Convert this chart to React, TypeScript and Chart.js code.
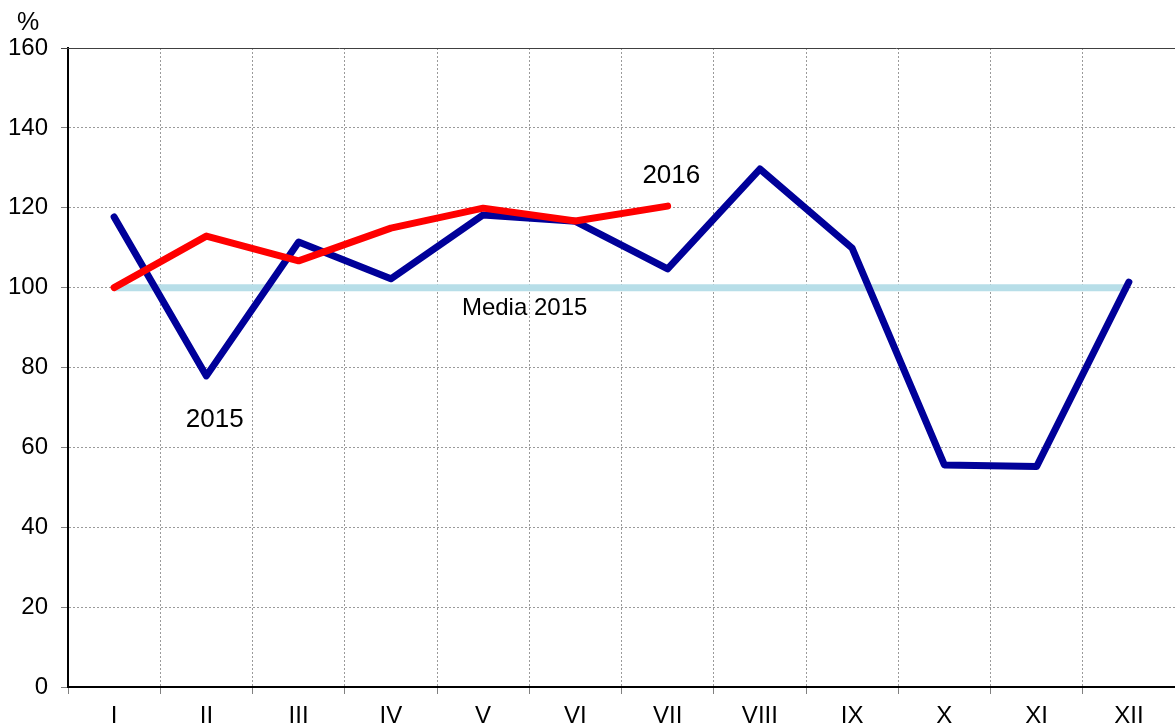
import React, { useEffect, useRef } from "react";
import { Chart, registerables } from "chart.js";

Chart.register(...registerables);

const months = ["I", "II", "III", "IV", "V", "VI", "VII", "VIII", "IX", "X", "XI", "XII"];
const values2015 = [117.7, 77.9, 111.4, 102.2, 118.2, 116.6, 104.7, 129.7, 109.9, 55.6, 55.2, 101.4];
const values2016 = [100, 112.9, 106.7, 114.9, 119.9, 116.7, 120.4, null, null, null, null, null];
const media2015 = [100, 100, 100, 100, 100, 100, 100, 100, 100, 100, 100, 100];
const yTicks = [0, 20, 40, 60, 80, 100, 120, 140, 160];

const FONT = "'Liberation Sans', Arial, sans-serif";

const labelPlugin = {
  id: "labels",
  afterDatasetsDraw(chart: any) {
    const { ctx, scales, chartArea } = chart;
    const x = scales.x;
    const y = scales.y;
    ctx.save();
    // top border
    ctx.strokeStyle = "#404040";
    ctx.lineWidth = 1;
    ctx.beginPath();
    ctx.moveTo(chartArea.left - 7, Math.round(chartArea.top) + 0.5);
    ctx.lineTo(chartArea.right, Math.round(chartArea.top) + 0.5);
    ctx.stroke();

    ctx.fillStyle = "#000";
    ctx.textAlign = "center";
    ctx.textBaseline = "middle";
    ctx.font = `26px ${FONT}`;
    ctx.fillText("2015", x.getPixelForValue(1.09), y.getPixelForValue(66.8));
    ctx.fillText("2016", x.getPixelForValue(6.04), y.getPixelForValue(128));
    ctx.font = `24px ${FONT}`;
    ctx.fillText("Media 2015", x.getPixelForValue(4.45), y.getPixelForValue(94.9));
    ctx.font = `25px ${FONT}`;
    ctx.fillText("%", chartArea.left - 40, chartArea.top - 25);
    ctx.restore();
  },
};

export default function App() {
  const ref = useRef<HTMLCanvasElement>(null);
  useEffect(() => {
    document.body.style.margin = "0";
    const chart = new Chart(ref.current!, {
      type: "line",
      data: {
        labels: months,
        datasets: [
          {
            label: "2016",
            data: values2016,
            borderColor: "#FF0000",
            borderWidth: 7,
            pointRadius: 0,
            borderCapStyle: "round",
            borderJoinStyle: "round",
            order: 1,
            spanGaps: false,
          },
          {
            label: "2015",
            data: values2015,
            borderColor: "#000099",
            borderWidth: 7,
            pointRadius: 0,
            borderCapStyle: "round",
            borderJoinStyle: "round",
            order: 2,
          },
          {
            label: "Media 2015",
            data: media2015,
            borderColor: "#B7DEE8",
            borderWidth: 7,
            pointRadius: 0,
            borderCapStyle: "butt",
            order: 3,
          },
        ],
      },
      options: {
        animation: false,
        responsive: false,
        maintainAspectRatio: false,
        layout: { padding: { top: 48, right: 0, left: 0, bottom: 0 } },
        plugins: { legend: { display: false }, tooltip: { enabled: false } },
        scales: {
          x: {
            offset: true,
            grid: {
              offset: true,
              color: "#9a9a9a",
              lineWidth: 1,
              tickLength: 7,
              tickColor: "#808080",
              tickBorderDash: [],
            },
            border: { color: "#000", width: 2, dash: [2, 2] },
            ticks: {
              color: "#000",
              font: { family: FONT, size: 24 },
              padding: 8,
              maxRotation: 0,
              autoSkip: false,
            },
            afterFit(scale: any) {
              scale.height = 37;
            },
          },
          y: {
            min: 0,
            max: 160,
            afterBuildTicks(scale: any) {
              scale.ticks = yTicks.map((v) => ({ value: v }));
            },
            grid: {
              color: "#9a9a9a",
              lineWidth: 1,
              tickLength: 7,
              tickColor: "#808080",
              tickBorderDash: [],
            },
            border: { color: "#000", width: 2, dash: [2, 2] },
            ticks: {
              color: "#000",
              font: { family: FONT, size: 24 },
              padding: 13,
            },
            afterFit(scale: any) {
              scale.width = 68;
            },
          },
        },
      },
      plugins: [labelPlugin],
    });
    return () => chart.destroy();
  }, []);
  return (
    <div style={{ width: 1175, height: 724 }}>
      <canvas ref={ref} width={1175} height={724} style={{ display: "block" }} />
    </div>
  );
}
